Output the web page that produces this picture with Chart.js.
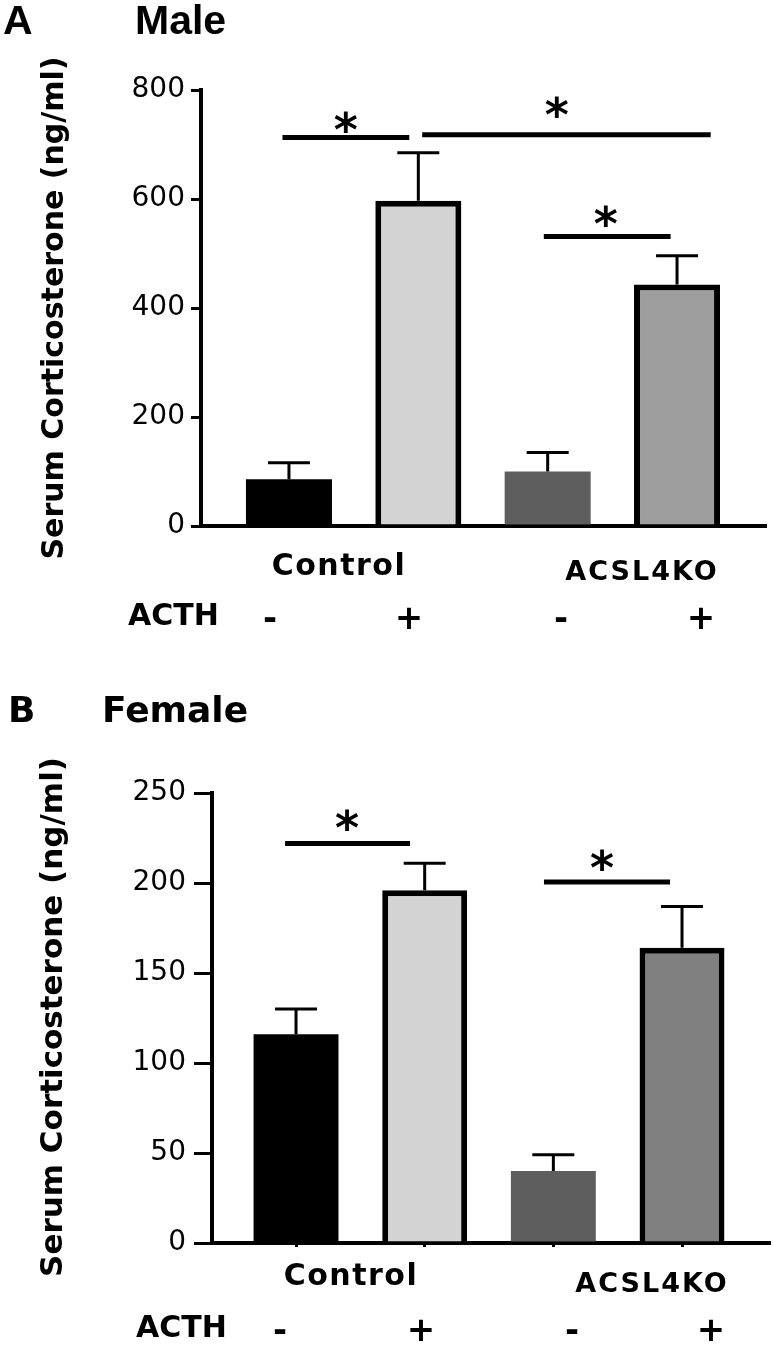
<!DOCTYPE html>
<html>
<head>
<meta charset="utf-8">
<script src="https://cdn.jsdelivr.net/npm/chart.js@4.4.0/dist/chart.umd.min.js"></script>
<style>
  body { margin: 0; background: #fff; }
  canvas { position: absolute; left: 0; }
</style>
</head>
<body>
<canvas id="male" width="773" height="660" style="top:0"></canvas>
<canvas id="female" width="773" height="691" style="top:660px"></canvas>
<script>
// data
const groups = ['Control', 'ACSL4KO'];
const acth = ['-', '+', '-', '+'];
const barX = [1, 2, 3, 4];

const maleMean = [86, 597, 100, 443];
const maleSem = [30, 88, 35, 53];
const maleTicks = [0, 200, 400, 600, 800];

const femaleMean = [116, 196, 40, 164];
const femaleSem = [14, 15, 9, 23];
const femaleTicks = [0, 50, 100, 150, 200, 250];

// significance lines: [x from, x to, line height, star x, star height]
const maleSig = [[0.95, 1.93, 713, 1.44, 742], [2.03, 4.26, 718, 3.07, 768], [2.97, 3.95, 531, 3.45, 569]];
const femaleSig = [[0.915, 1.886, 222, 1.396, 235], [2.927, 3.907, 200.5, 3.378, 213]];

const DV = "'DejaVu Sans'";

function decor(p) {
  return {
    id: 'decor',
    afterDatasetsDraw(chart) {
      const ctx = chart.ctx, x = chart.scales.x, y = chart.scales.y;
      ctx.save();
      ctx.strokeStyle = '#000';
      // error bars
      ctx.lineWidth = 3;
      chart.getDatasetMeta(0).data.forEach((bar, i) => {
        const top = y.getPixelForValue(p.mean[i] + p.sem[i]);
        ctx.beginPath();
        ctx.moveTo(bar.x, bar.y);
        ctx.lineTo(bar.x, top);
        ctx.moveTo(bar.x - 21, top);
        ctx.lineTo(bar.x + 21, top);
        ctx.stroke();
      });
      // significance
      ctx.lineWidth = 5;
      ctx.fillStyle = '#000';
      ctx.font = 'bold 46px ' + DV;
      ctx.textAlign = 'center';
      ctx.textBaseline = 'alphabetic';
      const m = ctx.measureText('*');
      const off = (m.actualBoundingBoxAscent - m.actualBoundingBoxDescent) / 2;
      p.sig.forEach(s => {
        const ly = y.getPixelForValue(s[2]);
        ctx.beginPath();
        ctx.moveTo(x.getPixelForValue(s[0]), ly);
        ctx.lineTo(x.getPixelForValue(s[1]), ly);
        ctx.stroke();
        ctx.fillText('*', x.getPixelForValue(s[3]), y.getPixelForValue(s[4]) + off);
      });
      ctx.restore();
    },
    afterDraw(chart) {
      const ctx = chart.ctx;
      ctx.save();
      ctx.fillStyle = '#000';
      ctx.textBaseline = 'alphabetic';
      ctx.textAlign = 'left';
      ctx.font = p.titleFont;
      ctx.fillText(p.letter, p.letterX, p.titleY);
      ctx.fillText(p.title, p.titleX, p.titleY);

      // y axis title
      ctx.save();
      ctx.translate(p.yLabelX, p.yLabelY);
      ctx.rotate(-Math.PI / 2);
      ctx.textAlign = 'center';
      ctx.textBaseline = 'middle';
      ctx.font = 'bold ' + p.yLabelSize + 'px ' + DV;
      ctx.fillText('Serum Corticosterone (ng/ml)', 0, 0);
      ctx.restore();

      // group names
      ctx.textAlign = 'center';
      ctx.letterSpacing = '1.5px';
      ctx.font = 'bold 30px ' + DV;
      ctx.fillText(groups[0], p.groupX[0], p.groupY[0]);
      ctx.letterSpacing = '2px';
      ctx.font = 'bold 27px ' + DV;
      ctx.fillText(groups[1], p.groupX[1], p.groupY[1]);
      ctx.letterSpacing = '0px';

      // ACTH row
      ctx.textAlign = 'left';
      ctx.font = 'bold 30px ' + DV;
      ctx.fillText('ACTH', p.acthX, p.acthY);
      ctx.textAlign = 'center';
      ctx.font = 'bold 34px ' + DV;
      acth.forEach((s, i) => ctx.fillText(s, p.signX[i], p.acthY + 4));
      ctx.restore();
    }
  };
}

function panel(id, p) {
  const yMax = p.ticks[p.ticks.length - 1];
  return new Chart(document.getElementById(id), {
    type: 'bar',
    data: {
      datasets: [{
        data: barX.map((v, i) => ({ x: v, y: p.mean[i] })),
        backgroundColor: p.colors,
        borderColor: '#000',
        borderWidth: [0, 6, 0, 6],
        borderSkipped: 'bottom',
        barPercentage: p.barPct,
        categoryPercentage: 1
      }]
    },
    options: {
      responsive: false,
      animation: false,
      layout: { padding: { left: 0, top: p.top, right: p.right, bottom: 0 } },
      plugins: { legend: { display: false }, tooltip: { enabled: false } },
      scales: {
        x: {
          type: 'linear',
          offset: false,
          min: p.xMin,
          max: p.xMax,
          afterFit: s => { s.height = p.xHeight; },
          afterBuildTicks: s => { s.ticks = barX.map(v => ({ value: v })); },
          ticks: { display: false },
          grid: { offset: false, drawOnChartArea: false, drawTicks: p.xTicks, tickLength: 4, lineWidth: 3, color: '#000' },
          border: { display: true, color: '#000', width: 4 }
        },
        y: {
          min: 0,
          max: yMax,
          afterFit: s => { s.width = p.axisX; },
          afterBuildTicks: s => { s.ticks = p.ticks.map(v => ({ value: v })); },
          ticks: { color: '#000', padding: p.tickPad, font: { family: DV, size: 28 } },
          grid: { drawOnChartArea: false, tickLength: p.tickLen, lineWidth: 3, color: '#000' },
          border: { color: '#000', width: 4 }
        }
      }
    },
    plugins: [decor(p)]
  });
}

panel('male', {
  mean: maleMean, sem: maleSem, ticks: maleTicks, sig: maleSig,
  colors: ['#000000', '#d3d3d3', '#5e5e5e', '#9e9e9e'],
  top: 90, right: 8, xHeight: 134, axisX: 201, xMin: 0.32, xMax: 4.68, barPct: 0.665,
  xTicks: false, tickLen: 10, tickPad: 6,
  letter: 'A', title: 'Male', titleFont: "bold 41px 'Liberation Sans'", letterX: 3, titleX: 135, titleY: 34,
  yLabelX: 55, yLabelY: 308, yLabelSize: 30,
  groupX: [339, 642], groupY: [575, 580],
  acthX: 128, acthY: 625, signX: [270, 409, 561, 701]
});

panel('female', {
  mean: femaleMean, sem: femaleSem, ticks: femaleTicks, sig: femaleSig,
  colors: ['#000000', '#d3d3d3', '#5e5e5e', '#808080'],
  top: 133, right: 4, xHeight: 108, axisX: 212, xMin: 0.347, xMax: 4.676, barPct: 0.66,
  xTicks: true, tickLen: 18, tickPad: 8,
  letter: 'B', title: 'Female', titleFont: 'bold 36px ' + DV, letterX: 8, titleX: 102, titleY: 62,
  yLabelX: 54, yLabelY: 357, yLabelSize: 31,
  groupX: [351, 652], groupY: [625, 632],
  acthX: 136, acthY: 677, signX: [280, 421, 572, 711]
});
</script>
</body>
</html>
